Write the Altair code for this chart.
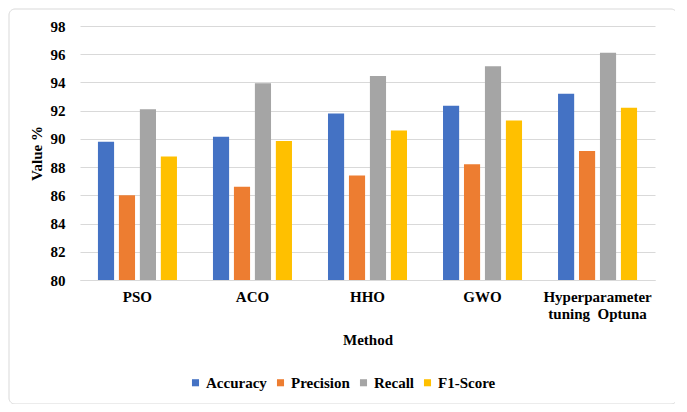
import altair as alt
import pandas as pd

methods = ["PSO", "ACO", "HHO", "GWO", "Hyperparameter tuning  Optuna"]
metrics = ["Accuracy", "Precision", "Recall", "F1-Score"]
accuracy = [89.8, 90.15, 91.8, 92.35, 93.2]
precision = [86.0, 86.6, 87.4, 88.2, 89.15]
recall = [92.1, 93.95, 94.45, 95.15, 96.1]
f1_score = [88.75, 89.85, 90.6, 91.3, 92.2]
colors = ["#4472C4", "#ED7D31", "#A5A5A5", "#FFC000"]
y_ticks = [80, 82, 84, 86, 88, 90, 92, 94, 96, 98]
baseline = 80

rows = []
for series, vals in zip(metrics, [accuracy, precision, recall, f1_score]):
    for m, v in zip(methods, vals):
        rows.append({"Method": m, "Metric": series, "Value": v})
df = pd.DataFrame(rows)

font = "Liberation Serif"

bars = alt.Chart(df).mark_bar().encode(
    x=alt.X("Method:N", sort=methods,
            scale=alt.Scale(paddingInner=0.313, paddingOuter=0.156),
            axis=alt.Axis(title="Method", labelAngle=0, tickSize=0, grid=False,
                          domain=True, domainColor="#d9d9d9", labelPadding=9,
                          labelExpr="datum.label == 'Hyperparameter tuning  Optuna' ? ['Hyperparameter', 'tuning\u00a0 Optuna'] : datum.label",
                          labelLineHeight=17, titlePadding=11)),
    xOffset=alt.XOffset("Metric:N", sort=metrics, scale=alt.Scale(paddingInner=0.23)),
    y=alt.Y("Value:Q", scale=alt.Scale(domain=[80, 98], nice=False, zero=False),
            axis=alt.Axis(title="Value %", values=y_ticks, tickSize=0, domain=False,
                          gridColor="#d9d9d9", labelPadding=15, titlePadding=6)),
    y2=alt.datum(baseline),
    color=alt.Color("Metric:N", sort=metrics,
                    scale=alt.Scale(domain=metrics, range=colors),
                    legend=alt.Legend(title=None, orient="none", direction="horizontal",
                                      legendX=108, legendY=349, symbolType="square",
                                      symbolSize=50, labelOffset=3, columnPadding=6,
                                      symbolStrokeWidth=0)),
)

frame = alt.Chart(pd.DataFrame({"f": [0]})).mark_rect(
    fill=None, stroke="#d9d9d9", strokeWidth=1, cornerRadius=6
).encode(x=alt.value(-71), x2=alt.value(597), y=alt.value(-17), y2=alt.value(378))

chart = alt.layer(frame, bars).properties(
    width=575, height=254,
    autosize=alt.AutoSizeParams(type="none"),
    padding={"left": 72, "top": 18, "right": 20, "bottom": 124},
).configure_axis(
    labelFont=font, titleFont=font, labelFontSize=15, titleFontSize=15,
    labelFontWeight="bold", titleFontWeight="bold", labelColor="#000", titleColor="#000",
).configure_legend(
    labelFont=font, labelFontSize=15, labelFontWeight="bold", labelColor="#000",
).configure_view(stroke=None)

chart.save("out.html", embed_options={"renderer": "svg", "actions": False})
